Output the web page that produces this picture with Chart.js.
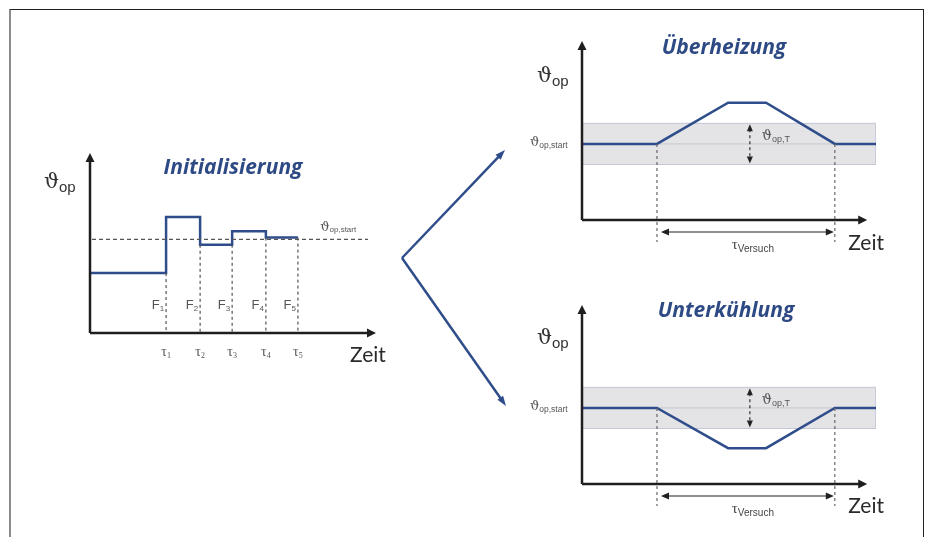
<!DOCTYPE html>
<html>
<head>
<meta charset="utf-8">
<script src="https://cdn.jsdelivr.net/npm/chart.js@4.4.1/dist/chart.umd.min.js"></script>
<style>
html, body { margin: 0; padding: 0; background: #fff; }
#page { position: relative; width: 928px; height: 537px; overflow: hidden; }
#page canvas { position: absolute; left: 0; top: 0; }
#frame { position: absolute; left: 9px; top: 9px; width: 912px; height: 600px;
  border-left: 2px solid #8a8a8a; border-top: 1px solid #222; border-right: 1px solid #222; }
</style>
</head>
<body>
<div id="page">
  <div id="frame"></div>
  <canvas id="init" width="928" height="537"></canvas>
  <canvas id="over" width="928" height="537"></canvas>
  <canvas id="under" width="928" height="537"></canvas>
</div>
<script>
// Initialisierung: Umschaltzeitpunkte und Stufen von ϑop
const initTau = [2.66, 3.85, 4.97, 6.15, 7.27];
const initLevels = [3.33, 6.45, 4.9, 5.65, 5.3];
const initStart = 5.2;
const tauLabels = ['1', '2', '3', '4', '5'];
const fLabels = ['1', '2', '3', '4', '5'];

// Überheizung / Unterkühlung
const testX = [0, 2.55, 4.97, 6.26, 8.6, 10];
const overY = [4.25, 4.25, 6.55, 6.55, 4.25, 4.25];
const underY = [4.25, 4.25, 2.0, 2.0, 4.25, 4.25];
const startLevel = 4.25;
const tolerance = 1.15;

const BLUE = '#2f4d8a';
const AXIS = '#1e1e1e';

function arrowHead(ctx, x, y, ang, len, half) {
  ctx.save();
  ctx.translate(x, y);
  ctx.rotate(ang);
  ctx.beginPath();
  ctx.moveTo(0, 0);
  ctx.lineTo(-len, -half);
  ctx.lineTo(-len, half);
  ctx.closePath();
  ctx.fill();
  ctx.restore();
}

// text with a subscript
function subText(ctx, x, y, main, sub, o) {
  const mf = o.mainFont || (o.size + 'px "DejaVu Serif"');
  const sf = o.subFont || (o.subSize + 'px "Liberation Sans"');
  ctx.font = mf;
  const w1 = ctx.measureText(main).width;
  ctx.font = sf;
  const w2 = ctx.measureText(sub).width;
  let x0 = x;
  if (o.align === 'center') x0 = x - (w1 + w2) / 2;
  if (o.align === 'right') x0 = x - w1 - w2;
  ctx.fillStyle = o.color || '#333';
  ctx.textAlign = 'left';
  ctx.textBaseline = 'alphabetic';
  ctx.font = mf;
  ctx.fillText(main, x0, y);
  ctx.font = sf;
  ctx.fillText(sub, x0 + w1, y + (o.dy || 3));
}

function drawAxes(chart, xTip) {
  const { ctx, chartArea: a, scales: { x } } = chart;
  const tip = x.getPixelForValue(xTip);
  ctx.save();
  ctx.strokeStyle = AXIS;
  ctx.fillStyle = AXIS;
  ctx.lineWidth = 2.5;
  ctx.beginPath();
  ctx.moveTo(a.left, a.bottom);
  ctx.lineTo(a.left, a.top + 6);
  ctx.moveTo(a.left, a.bottom);
  ctx.lineTo(tip - 6, a.bottom);
  ctx.stroke();
  arrowHead(ctx, a.left, a.top, -Math.PI / 2, 9, 4.5);
  arrowHead(ctx, tip, a.bottom, 0, 9, 4.5);
  ctx.restore();
}

function dashLine(ctx, x1, y1, x2, y2, color, dash) {
  ctx.save();
  ctx.strokeStyle = color;
  ctx.lineWidth = 1.2;
  ctx.setLineDash(dash);
  ctx.beginPath();
  ctx.moveTo(x1, y1);
  ctx.lineTo(x2, y2);
  ctx.stroke();
  ctx.restore();
}

const diagram = {
  id: 'diagram',
  afterDatasetsDraw(chart, args, opts) {
    const { ctx, chartArea: a, scales: { x, y } } = chart;
    drawAxes(chart, opts.xTip);

    // title
    ctx.save();
    ctx.fillStyle = '#2e4a85';
    ctx.font = 'italic bold 21px "Open Sans"';
    ctx.textAlign = 'center';
    ctx.textBaseline = 'alphabetic';
    ctx.fillText(opts.title, opts.titleX, a.top + opts.titleDy);
    ctx.restore();

    subText(ctx, opts.symX, a.top + opts.symDy, 'ϑ', 'op',
      { size: 21, subSize: 15, color: '#333', dy: 4 });

    ctx.save();
    ctx.fillStyle = '#2a2a2a';
    ctx.font = '21px Lato';
    ctx.textAlign = 'left';
    ctx.fillText('Zeit', x.getPixelForValue(opts.xTip) + opts.zeitDx, a.bottom + opts.zeitDy);
    ctx.restore();

    if (opts.kind === 'init') {
      const ys = y.getPixelForValue(initStart);
      dashLine(ctx, x.getPixelForValue(0.07), ys, x.getPixelForValue(9.72), ys, '#555', [4, 3]);
      subText(ctx, x.getPixelForValue(8.05), ys - 8, 'ϑ', 'op,start',
        { size: 13, subSize: 8, color: '#555', dy: 1 });
      initTau.forEach((t, i) => {
        const lo = Math.min(initLevels[i], initLevels[i + 1] !== undefined ? initLevels[i + 1] : initLevels[i]);
        const px = x.getPixelForValue(t);
        dashLine(ctx, px, y.getPixelForValue(lo), px, a.bottom, '#555', [3, 3]);
        subText(ctx, px, a.bottom + 23, 'τ', tauLabels[i],
          { mainFont: '14px "Liberation Serif"', subFont: '8px "Liberation Serif"', color: '#555', dy: 2, align: 'center' });
        subText(ctx, px - 2, a.bottom - 24, 'F', fLabels[i],
          { mainFont: '13px "Liberation Sans"', subFont: '8px "Liberation Sans"', color: '#555', dy: 2, align: 'right' });
      });
    } else {
      const ys = y.getPixelForValue(startLevel);
      const x1 = x.getPixelForValue(testX[1]);
      const x2 = x.getPixelForValue(testX[4]);
      const yb = y.getPixelForValue(-1.23);
      dashLine(ctx, x1, ys, x1, yb, '#666', [3, 3]);
      dashLine(ctx, x2, ys, x2, yb, '#666', [3, 3]);

      // τVersuch
      const ya = y.getPixelForValue(-0.67);
      ctx.save();
      ctx.strokeStyle = '#222';
      ctx.fillStyle = '#222';
      ctx.lineWidth = 1.2;
      ctx.beginPath();
      ctx.moveTo(x1 + 8, ya);
      ctx.lineTo(x2 - 6, ya);
      ctx.stroke();
      arrowHead(ctx, x1 + 4, ya, Math.PI, 8, 3.5);
      arrowHead(ctx, x2 - 1, ya, 0, 8, 3.5);
      ctx.restore();
      subText(ctx, (x1 + x2) / 2 + 7, a.bottom + 29, 'τ', 'Versuch',
        { mainFont: '15px "Liberation Serif"', subFont: '10px "Liberation Sans"', color: '#444', dy: 3, align: 'center' });

      // ϑop,T
      const xt = x.getPixelForValue(5.71);
      const yt = y.getPixelForValue(startLevel + tolerance);
      const yl = y.getPixelForValue(startLevel - tolerance);
      ctx.save();
      ctx.fillStyle = '#222';
      dashLine(ctx, xt, yt + 6, xt, yl - 6, '#333', [3, 3]);
      arrowHead(ctx, xt, yt + 1, -Math.PI / 2, 7, 3);
      arrowHead(ctx, xt, yl - 1, Math.PI / 2, 7, 3);
      ctx.restore();
      subText(ctx, xt + 12, yt + 17, 'ϑ', 'op,T',
        { size: 14, subSize: 9, color: '#555', dy: 2 });

      subText(ctx, a.left - 52, ys + 2, 'ϑ', 'op,start',
        { size: 13, subSize: 8.5, color: '#555', dy: 2 });
    }

    if (opts.connectors) {
      // arrows from Initialisierung to the two test cases
      ctx.save();
      ctx.strokeStyle = BLUE;
      ctx.fillStyle = BLUE;
      ctx.lineWidth = 2.5;
      const v = [402, 258];
      const tips = [[505, 150], [506, 406]];
      tips.forEach(t => {
        const ang = Math.atan2(t[1] - v[1], t[0] - v[0]);
        ctx.beginPath();
        ctx.moveTo(v[0], v[1]);
        ctx.lineTo(t[0] - 7 * Math.cos(ang), t[1] - 7 * Math.sin(ang));
        ctx.stroke();
        arrowHead(ctx, t[0], t[1], ang, 10, 3.5);
      });
      ctx.restore();
    }
  }
};

function makeOptions(pad, deco) {
  return {
    responsive: false,
    animation: false,
    events: [],
    layout: { padding: pad },
    scales: {
      x: { type: 'linear', min: 0, max: 10, display: false },
      y: { type: 'linear', min: 0, max: 10, display: false }
    },
    elements: { point: { radius: 0 } },
    plugins: { legend: { display: false }, tooltip: { enabled: false }, diagram: deco }
  };
}

// Initialisierung
const initX = [0, ...initTau];
const initY = [...initLevels, initLevels[initLevels.length - 1]];
new Chart(document.getElementById('init'), {
  type: 'line',
  data: {
    datasets: [{
      data: initX.map((v, i) => ({ x: v, y: initY[i] })),
      borderColor: BLUE,
      borderWidth: 2.5,
      stepped: 'before',
      fill: false
    }]
  },
  options: makeOptions({ left: 90, top: 153, right: 552, bottom: 204 },
    { kind: 'init', title: 'Initialisierung', titleX: 233, titleDy: 21, symX: 44, symDy: 35, zeitDx: -26, zeitDy: 29, xTip: 10, connectors: true }),
  plugins: [diagram]
});

function testChart(id, ys, title, pad, deco) {
  const hi = startLevel + tolerance;
  const lo = startLevel - tolerance;
  new Chart(document.getElementById(id), {
    type: 'line',
    data: {
      datasets: [
        {
          data: testX.map((v, i) => ({ x: v, y: ys[i] })),
          borderColor: BLUE,
          borderWidth: 2.5,
          fill: false
        },
        {
          data: [{ x: 0, y: startLevel }, { x: 10, y: startLevel }],
          borderColor: '#c4c7ce',
          borderWidth: 1,
          fill: false
        },
        {
          data: [{ x: 0, y: hi }, { x: 10, y: hi }, { x: 10, y: lo }, { x: 0, y: lo }, { x: 0, y: hi }],
          borderColor: '#c3c8d8',
          borderWidth: 1,
          backgroundColor: '#e4e4e7',
          fill: 'shape'
        }
      ]
    },
    options: makeOptions(pad, Object.assign({ kind: 'test', title: title }, deco)),
    plugins: [diagram]
  });
}

testChart('over', overY, 'Überheizung', { left: 582, top: 41, right: 52, bottom: 317 },
  { titleX: 724, titleDy: 13, symX: 537, symDy: 41, zeitDx: -19, zeitDy: 30, xTip: 9.7 });
testChart('under', underY, 'Unterkühlung', { left: 582, top: 305, right: 52, bottom: 53 },
  { titleX: 726, titleDy: 12, symX: 537, symDy: 39, zeitDx: -19, zeitDy: 29, xTip: 9.7 });
</script>
</body>
</html>
